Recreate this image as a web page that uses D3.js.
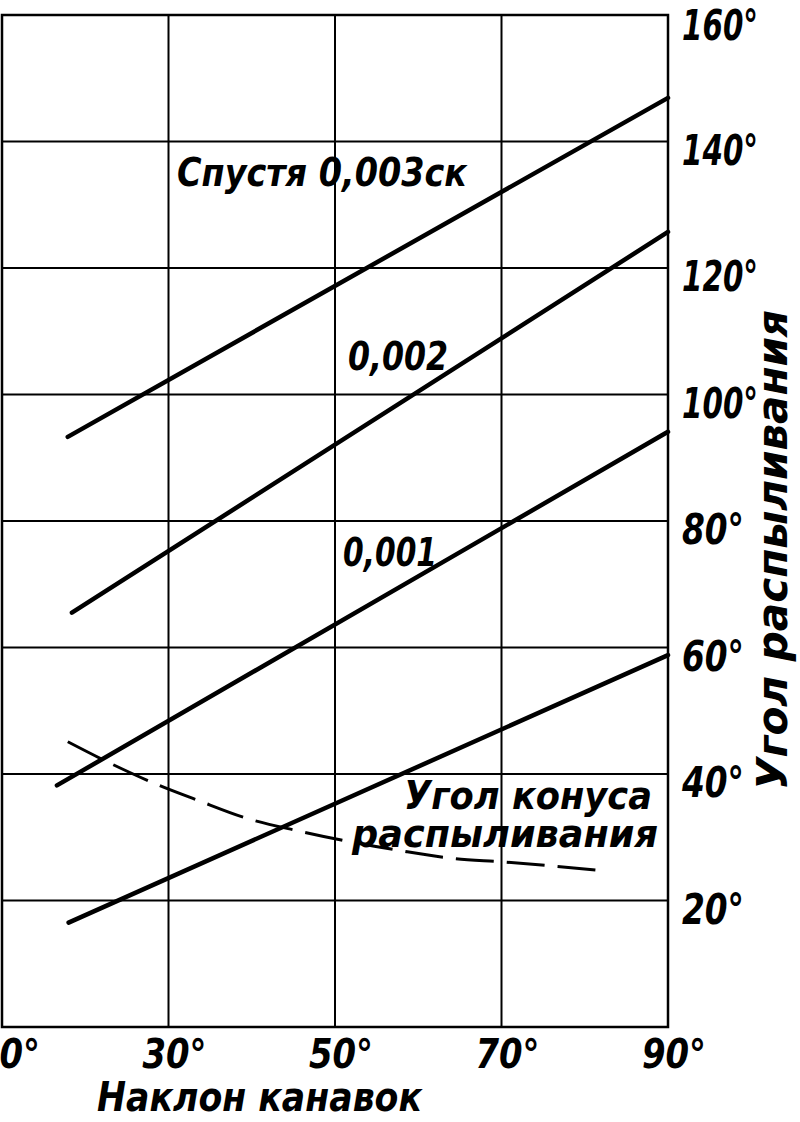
<!DOCTYPE html>
<html lang="ru">
<script src="https://d3js.org/d3.v7.min.js"></script>
<style>
    body {margin: 0; background: #fff;}
    .grid line {stroke: #000; stroke-width: 2;}
    .frame {fill: none; stroke: #000; stroke-width: 2.5;}
    .curve {fill: none; stroke: #000; stroke-width: 4.5; stroke-linecap: round;}
    .dash {fill: none; stroke: #000; stroke-width: 3; stroke-dasharray: 38 13;}
    text {font-family: "DejaVu Sans Condensed", "DejaVu Sans", sans-serif; font-style: oblique; font-weight: bold; fill: #000;}
</style>
<body>
    <svg width="800" height="1122"></svg>
</body>
<script>
    // наклон канавок, градусы
    var naklonTicks = [10, 30, 50, 70, 90];
    // угол распыливания, градусы
    var uglyTicks = [20, 40, 60, 80, 100, 120, 140, 160];

    // [наклон, угол]
    var t003 = [[17.9, 93.3], [90, 146.9]];
    var t002 = [[18.4, 65.5], [90, 125.7]];
    var t001 = [[16.6, 38.2], [90, 94.1]];
    var tLow = [[18.0, 16.5], [90, 58.8]];
    var konus = [[17.9, 45.1], [23.0, 41.7], [28.7, 38.3], [33.4, 35.9], [39.4, 33.0], [45.6, 31.0],
                 [50.6, 29.6], [57.8, 27.9], [63.9, 26.7], [70.2, 26.1], [75.8, 25.5], [82.4, 24.7]];

    var svg = d3.select("svg");

    var x = d3.scaleLinear().domain([10, 90]).range([2, 668]);
    var y = d3.scaleLinear().domain([0, 160]).range([1027, 15]);

    // сетка
    var grid = svg.append("g").attr("class", "grid");
    grid.selectAll(".v").data(naklonTicks.slice(1, -1)).enter().append("line")
        .attr("x1", function(d){return x(d);}).attr("x2", function(d){return x(d);})
        .attr("y1", y(160)).attr("y2", y(0));
    grid.selectAll(".h").data(uglyTicks.slice(0, -1)).enter().append("line")
        .attr("x1", x(10)).attr("x2", x(90))
        .attr("y1", function(d){return y(d);}).attr("y2", function(d){return y(d);});

    svg.append("rect").attr("class", "frame")
        .attr("x", x(10)).attr("y", y(160))
        .attr("width", x(90) - x(10)).attr("height", y(0) - y(160));

    // кривые
    var line = d3.line().x(function(d){return x(d[0]);}).y(function(d){return y(d[1]);});
    svg.selectAll(".curve").data([t003, t002, t001, tLow]).enter().append("path")
        .attr("class", "curve").attr("d", line);

    svg.append("path").attr("class", "dash")
        .attr("d", line.curve(d3.curveMonotoneX)(konus));

    // подписи осей
    svg.selectAll(".xl").data(naklonTicks).enter().append("text")
        .attr("x", function(d){return x(d) + 6;}).attr("y", 1068)
        .attr("text-anchor", "middle").attr("font-size", 40)
        .attr("textLength", 64).attr("lengthAdjust", "spacingAndGlyphs")
        .text(function(d){return d + "°";});

    svg.selectAll(".yl").data(uglyTicks).enter().append("text")
        .attr("x", 682).attr("y", function(d){return y(d) + (d == 160 ? 25 : 23);})
        .attr("font-size", 43)
        .attr("textLength", function(d){return d >= 100 ? 76 : 62;})
        .attr("lengthAdjust", "spacingAndGlyphs")
        .text(function(d){return d + "°";});

    svg.append("text").attr("x", 97).attr("y", 1111).attr("font-size", 40)
        .attr("textLength", 325).attr("lengthAdjust", "spacingAndGlyphs")
        .text("Наклон канавок");

    svg.append("text").attr("transform", "translate(787,790) rotate(-90)").attr("font-size", 42)
        .attr("textLength", 480).attr("lengthAdjust", "spacingAndGlyphs")
        .text("Угол распыливания");

    // подписи кривых
    var notes = [
        {t: "Спустя 0,003ск", x: 177, y: 186, w: 290},
        {t: "0,002", x: 348, y: 370, w: 100},
        {t: "0,001", x: 343, y: 566, w: 94}
    ];
    svg.selectAll(".note").data(notes).enter().append("text")
        .attr("x", function(d){return d.x;}).attr("y", function(d){return d.y;})
        .attr("font-size", 39)
        .attr("textLength", function(d){return d.w;}).attr("lengthAdjust", "spacingAndGlyphs")
        .text(function(d){return d.t;});

    // подпись штриховой кривой — две строки в одном тексте
    var konusNote = [
        {t: "Угол конуса", x: 404, y: 809, w: 248},
        {t: "распыливания", x: 352, y: 847, w: 306}
    ];
    svg.append("text").attr("font-size", 39)
        .selectAll("tspan").data(konusNote).enter().append("tspan")
        .attr("x", function(d){return d.x;}).attr("y", function(d){return d.y;})
        .attr("textLength", function(d){return d.w;}).attr("lengthAdjust", "spacingAndGlyphs")
        .text(function(d){return d.t;});
</script>
</html>
